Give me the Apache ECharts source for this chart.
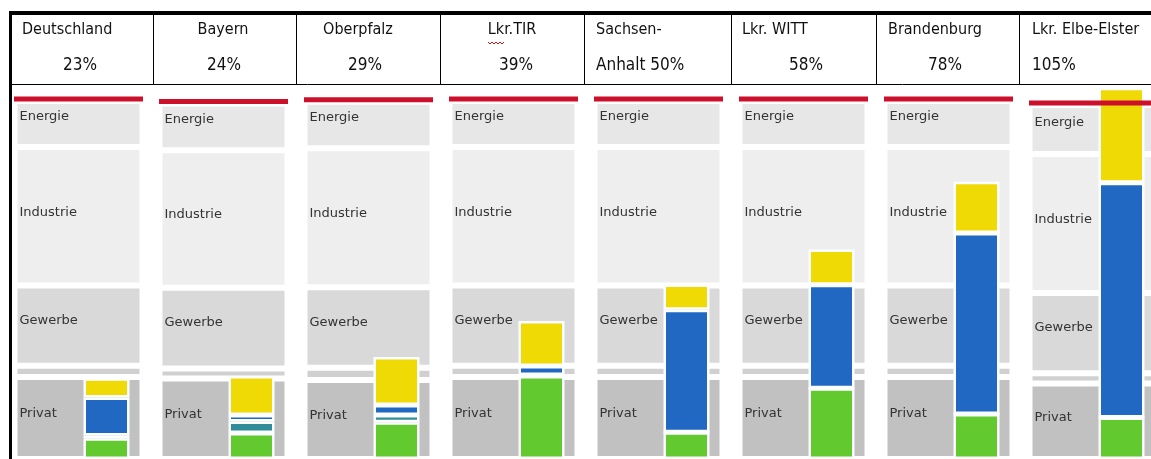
<!DOCTYPE html>
<html>
<head>
<meta charset="utf-8">
<script src="https://cdn.jsdelivr.net/npm/echarts@6/dist/echarts.min.js"></script>
<style>
  html, body { margin: 0; padding: 0; background: #fff; overflow: hidden; }
  /* Die letzte Spalte ist im Original am rechten Rand abgeschnitten */
  #chart { width: 1200px; height: 459px; }
</style>
</head>
<body>
<div id="chart"></div>
<script>
// Regionen und Anteil erneuerbarer Energien (Kopfzeile)
const regionen = ['Deutschland', 'Bayern', 'Oberpfalz', 'Lkr.TIR', 'Sachsen-Anhalt', 'Lkr. WITT', 'Brandenburg', 'Lkr. Elbe-Elster'];
const anteile = ['23%', '24%', '29%', '39%', '50%', '58%', '78%', '105%'];

// Verbrauchssektoren (Hintergrund), Anteil am Gesamtverbrauch
const privat    = [22.9, 22.5, 22.1, 22.9, 22.9, 22.9, 22.9, 21.1];
const uebergang = [3.2, 2.8, 3.4, 3.2, 3.2, 3.2, 3.2, 2.9];
const gewerbe   = [22.4, 22.6, 22.5, 22.4, 22.4, 22.4, 22.4, 22.4];
const industrie = [38.7, 38.4, 38.9, 38.7, 38.7, 38.7, 38.7, 38.9];
const energie   = [12.9, 13.1, 13.0, 12.9, 12.9, 12.9, 12.9, 13.7];

// Erneuerbare Erzeugung (farbige Saeulen), von unten nach oben
const gruen = [5.8, 7.3, 10.3, 23.2, 7.5, 19.8, 12.6, 11.6];
const tuerkis = [0.8, 3.2, 2.0, 0.3, 0, 0, 0, 0];
const blau = [10.6, 1.8, 2.8, 2.5, 34.2, 28.9, 50.6, 65.6];
const gelb = [5.4, 10.9, 13.4, 12.6, 7.1, 9.9, 14.3, 26.6];

const gesamt = regionen.map((r, i) => privat[i] + uebergang[i] + gewerbe[i] + industrie[i] + energie[i]);

const chart = echarts.init(document.getElementById('chart'));

const zeile1 = regionen.map(r => r === 'Sachsen-Anhalt' ? 'Sachsen-' : r);
const zeile2 = anteile.map((a, i) => regionen[i] === 'Sachsen-Anhalt' ? 'Anhalt ' + a : a);
const pos1 = [[22, 'left'], [223, 'center'], [358, 'center'], [512, 'center'], [596, 'left'], [742, 'left'], [888, 'left'], [1032, 'left']];
const pos2 = [[80, 'center'], [224, 'center'], [365, 'center'], [516, 'center'], [596, 'left'], [806, 'center'], [945, 'center'], [1032, 'left']];
const kopfFont = '"Liberation Sans Narrow", "DejaVu Sans Condensed", sans-serif';

const graphics = [];
// Tabellenrahmen
graphics.push({ type: 'rect', shape: { x: 9, y: 11, width: 1191, height: 4 }, style: { fill: '#000' }, z: 100 });
graphics.push({ type: 'rect', shape: { x: 9, y: 11, width: 3, height: 448 }, style: { fill: '#000' }, z: 100 });
graphics.push({ type: 'line', shape: { x1: 10, y1: 84.5, x2: 1200, y2: 84.5 }, style: { stroke: '#000', lineWidth: 1 }, z: 100 });
[153, 296, 440, 584, 731, 876, 1019].forEach(x => {
  graphics.push({ type: 'line', shape: { x1: x + 0.5, y1: 14, x2: x + 0.5, y2: 85 }, style: { stroke: '#000', lineWidth: 1 }, z: 100 });
});
zeile1.forEach((t, i) => {
  graphics.push({ type: 'text', x: pos1[i][0], y: 30, z: 100,
    style: { text: t, font: '16px ' + kopfFont, fill: '#111', align: pos1[i][1], verticalAlign: 'middle' } });
  graphics.push({ type: 'text', x: pos2[i][0], y: 66, z: 100,
    style: { text: zeile2[i], font: '17px ' + kopfFont, fill: '#111', align: pos2[i][1], verticalAlign: 'middle' } });
});
// Rechtschreib-Unterstreichung unter "Lkr"
graphics.push({ type: 'polyline', z: 100,
  shape: { points: [[488, 42], [490, 44], [492, 42], [494, 44], [496, 42], [498, 44], [500, 42], [502, 44], [504, 42]] },
  style: { stroke: '#d01c1c', lineWidth: 1, fill: null } });

const sektorLabel = (dy) => ({
  show: true, position: 'insideLeft', offset: [0, dy], formatter: '{a}',
  fontFamily: 'DejaVu Sans', fontSize: 13, color: '#333'
});
const sektor = (name, data, color, label) => ({
  name, type: 'bar', stack: 'sektor', xAxisIndex: 0, yAxisIndex: 0,
  barWidth: 128, data, silent: true, z: 2,
  itemStyle: { color, borderColor: '#fff', borderWidth: 3 },
  label: label || { show: false }
});
const ee = (name, data, color) => ({
  name, type: 'bar', stack: 'ee', xAxisIndex: 1, yAxisIndex: 1,
  barWidth: 46, data, silent: true, z: 3,
  itemStyle: { color, borderColor: '#fbfdff', borderWidth: 2.5 }
});

const option = {
  animation: false,
  grid: [
    // Spaltenbreite 145px, farbige Saeulen 29px nach rechts versetzt
    { left: 6, width: 1160, top: 87, height: 372 },
    { left: 34, width: 1160, top: 87, height: 372 }
  ],
  xAxis: [
    { type: 'category', data: regionen, gridIndex: 0, show: false },
    { type: 'category', data: regionen, gridIndex: 1, show: false }
  ],
  yAxis: [
    { type: 'value', min: 0, max: 104, gridIndex: 0, show: false, splitLine: { show: false } },
    { type: 'value', min: 0, max: 104, gridIndex: 1, show: false, splitLine: { show: false } }
  ],
  graphic: graphics,
  series: [
    sektor('Privat', privat, '#c1c1c1', sektorLabel(-4)),
    sektor('Uebergang', uebergang, '#d0d0d0'),
    sektor('Gewerbe', gewerbe, '#d9d9d9', sektorLabel(-5)),
    sektor('Industrie', industrie, '#eeeeee', sektorLabel(-4)),
    sektor('Energie', energie, '#e7e7e7', sektorLabel(-7)),
    ee('Gruen', gruen, '#62c92e'),
    ee('Tuerkis', tuerkis, '#2f8c98'),
    ee('Blau', blau, '#2068c2'),
    ee('Gelb', gelb, '#f0da06'),
    {
      name: '100%', type: 'scatter', xAxisIndex: 0, yAxisIndex: 0, data: gesamt,
      symbol: 'rect', symbolSize: [129, 5], symbolOffset: [0, -2], silent: true, z: 5,
      itemStyle: { color: '#cc0f2a', opacity: 1 }
    }
  ]
};

chart.setOption(option);
</script>
</body>
</html>
